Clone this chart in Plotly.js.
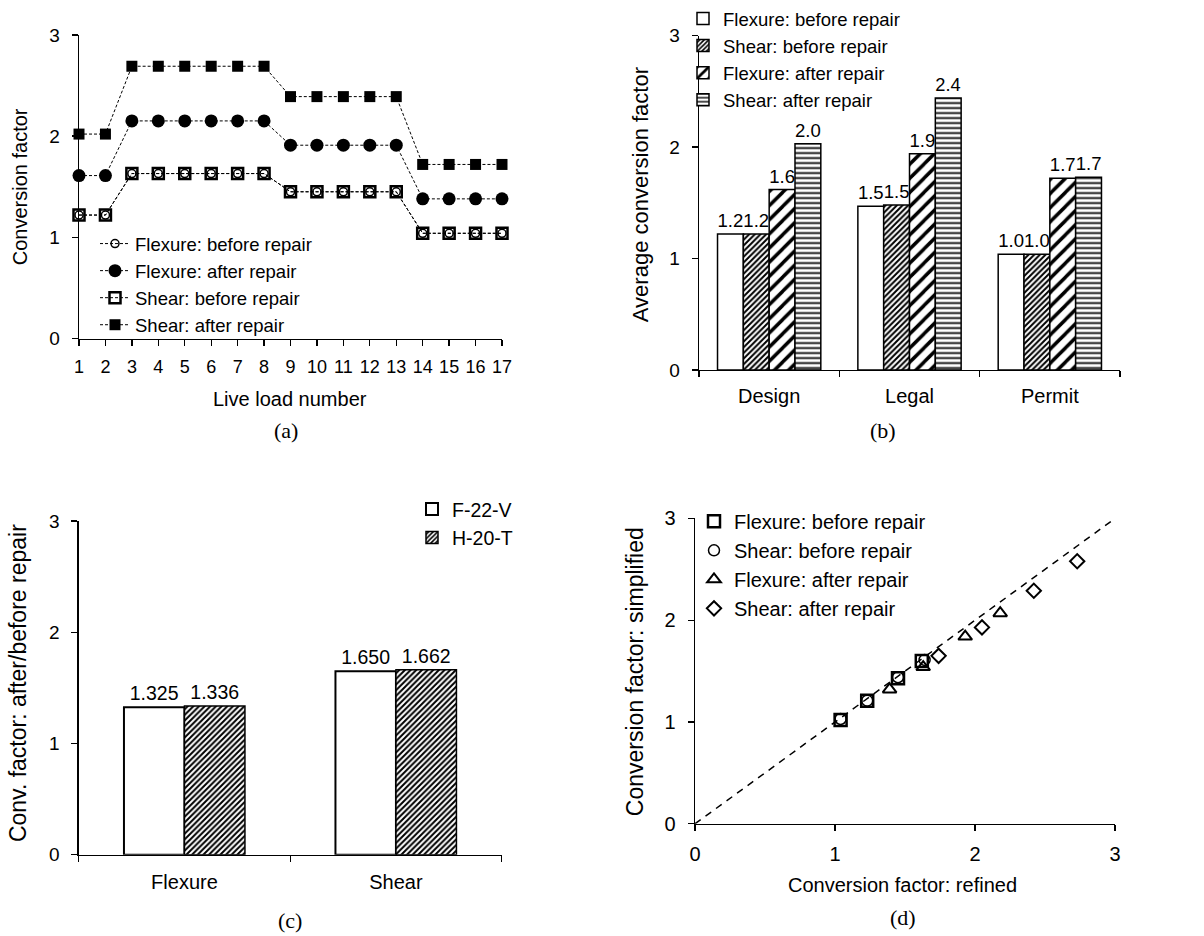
<!DOCTYPE html>
<html>
<head>
<meta charset="utf-8">
<script src="https://cdn.plot.ly/plotly-3.0.1.min.js"></script>
<style>html,body{margin:0;padding:0;background:#fff;}#chart{width:1204px;height:936px;}</style>
</head>
<body>
<div id="chart"></div>
<script>
// ---------- Panel (a) data ----------
const liveLoads = [1,2,3,4,5,6,7,8,9,10,11,12,13,14,15,16,17];
const flexBefore = [1.22,1.22,1.63,1.63,1.63,1.63,1.63,1.63,1.45,1.45,1.45,1.45,1.45,1.04,1.04,1.04,1.04];
const flexAfter  = [1.61,1.61,2.15,2.15,2.15,2.15,2.15,2.15,1.91,1.91,1.91,1.91,1.91,1.38,1.38,1.38,1.38];
const shearBefore= [1.22,1.22,1.63,1.63,1.63,1.63,1.63,1.63,1.45,1.45,1.45,1.45,1.45,1.04,1.04,1.04,1.04];
const shearAfter = [2.02,2.02,2.69,2.69,2.69,2.69,2.69,2.69,2.39,2.39,2.39,2.39,2.39,1.72,1.72,1.72,1.72];

// ---------- Panel (b) data ----------
const loadTypes = ['Design','Legal','Permit'];
const avgFlexBefore  = [1.22,1.47,1.04];
const avgShearBefore = [1.22,1.48,1.04];
const avgFlexAfter   = [1.62,1.94,1.72];
const avgShearAfter  = [2.03,2.44,1.73];

// ---------- Panel (c) data ----------
const effects = ['Flexure','Shear'];
const ratioF22V = [1.325,1.650];
const ratioH20T = [1.336,1.662];

// ---------- Panel (d) data ----------
const dFlexBeforeX  = [1.04,1.23,1.45,1.62];
const dFlexBeforeY  = [1.02,1.21,1.43,1.60];
const dShearBeforeX = [1.04,1.23,1.45,1.64];
const dShearBeforeY = [1.03,1.21,1.44,1.61];
const dFlexAfterX   = [1.39,1.63,1.93,2.18];
const dFlexAfterY   = [1.32,1.54,1.84,2.07];
const dShearAfterX  = [1.74,2.05,2.42,2.73];
const dShearAfterY  = [1.65,1.93,2.29,2.58];
const refLineX = [0,3];
const refLineY = [0,3];

const FONT = 'Liberation Sans, Arial, sans-serif';
const SERIF = 'Liberation Serif, Times New Roman, serif';
const W = 1204, H = 936;
const px = v => v / W;
const py = v => 1 - v / H;

const lineDash = {color:'black', width:1, dash:'3px,2px'};
const traces = [
  // (a)
  {x:liveLoads, y:flexBefore, name:'Flexure: before repair', mode:'lines+markers', line:lineDash,
   marker:{symbol:'circle-open', size:8, color:'black', line:{width:1.5, color:'black'}}, xaxis:'x', yaxis:'y', legend:'legend', cliponaxis:false},
  {x:liveLoads, y:flexAfter, name:'Flexure: after repair', mode:'lines+markers', line:lineDash,
   marker:{symbol:'circle', size:13, color:'black'}, xaxis:'x', yaxis:'y', legend:'legend', cliponaxis:false},
  {x:liveLoads, y:shearBefore, name:'Shear: before repair', mode:'lines+markers', line:lineDash,
   marker:{symbol:'square-open', size:11, color:'black', line:{width:2.5, color:'black'}}, xaxis:'x', yaxis:'y', legend:'legend', cliponaxis:false},
  {x:liveLoads, y:shearAfter, name:'Shear: after repair', mode:'lines+markers', line:lineDash,
   marker:{symbol:'square', size:11, color:'black'}, xaxis:'x', yaxis:'y', legend:'legend', cliponaxis:false},
];

// (b)
const bw = 0.184;
const densePattern = {shape:'/', size:4, solidity:0.5, fgcolor:'black', bgcolor:'white'};
const bSeries = [
  {y:avgFlexBefore, name:'Flexure: before repair', pattern:{shape:''}},
  {y:avgShearBefore, name:'Shear: before repair', pattern:densePattern},
  {y:avgFlexAfter, name:'Flexure: after repair', pattern:{shape:'/', size:10, solidity:0.35, fgcolor:'black', bgcolor:'white'}},
  {y:avgShearAfter, name:'Shear: after repair', pattern:{shape:'-', size:5, solidity:0.35, fgcolor:'black', bgcolor:'white'}},
];
bSeries.forEach((s, i) => {
  traces.push({type:'bar', x:loadTypes, y:s.y, name:s.name, width:bw, offset:-2*bw + i*bw,
    marker:{color:'white', line:{color:'black', width:1.5}, pattern:s.pattern},
    texttemplate:'%{y:.1f}', textposition:'outside', textfont:{size:19, color:'black', family:FONT},
    cliponaxis:false, xaxis:'x2', yaxis:'y2', legend:'legend2'});
});

// (c)
const cw = 0.286;
traces.push({type:'bar', x:effects, y:ratioF22V, name:'F-22-V', width:cw, offset:-cw,
  marker:{color:'white', line:{color:'black', width:2}},
  texttemplate:'%{y:.3f}', textposition:'outside', textfont:{size:19.5, color:'black', family:FONT},
  cliponaxis:false, xaxis:'x3', yaxis:'y3', legend:'legend3'});
traces.push({type:'bar', x:effects, y:ratioH20T, name:'H-20-T', width:cw, offset:0,
  marker:{color:'white', line:{color:'black', width:1.5}, pattern:densePattern},
  texttemplate:'%{y:.3f}', textposition:'outside', textfont:{size:19.5, color:'black', family:FONT},
  cliponaxis:false, xaxis:'x3', yaxis:'y3', legend:'legend3'});

// (d)
traces.push({x:refLineX, y:refLineY, mode:'lines', line:{color:'black', width:1.5, dash:'7px,6px'}, showlegend:false,
  xaxis:'x4', yaxis:'y4', hoverinfo:'skip'});
traces.push({x:dFlexBeforeX, y:dFlexBeforeY, name:'Flexure: before repair', mode:'markers',
  marker:{symbol:'square-open', size:12, color:'black', line:{width:2.5, color:'black'}}, xaxis:'x4', yaxis:'y4', legend:'legend4'});
traces.push({x:dShearBeforeX, y:dShearBeforeY, name:'Shear: before repair', mode:'markers',
  marker:{symbol:'circle-open', size:11, color:'black', line:{width:1.5, color:'black'}}, xaxis:'x4', yaxis:'y4', legend:'legend4'});
traces.push({x:dFlexAfterX, y:dFlexAfterY, name:'Flexure: after repair', mode:'markers',
  marker:{symbol:'triangle-up-open', size:12, color:'black', line:{width:2, color:'black'}}, xaxis:'x4', yaxis:'y4', legend:'legend4'});
traces.push({x:dShearAfterX, y:dShearAfterY, name:'Shear: after repair', mode:'markers',
  marker:{symbol:'diamond-open', size:11, color:'black', line:{width:2, color:'black'}}, xaxis:'x4', yaxis:'y4', legend:'legend4'});

const axBase = {showline:true, linecolor:'black', linewidth:1.3, showgrid:false, zeroline:false,
  ticks:'outside', ticklen:6, tickwidth:1.3, tickcolor:'black', tickfont:{size:19, color:'black', family:FONT}, fixedrange:true};
const xAx = (o) => Object.assign({}, axBase, {ticklabelstandoff:6}, o);
const yAx = (o) => Object.assign({}, axBase, {range:[0,3], dtick:1, tick0:0, ticklabelstandoff:8}, o);
const tf = s => ({size:s, color:'black', family:FONT});

const legBase = {bgcolor:'rgba(0,0,0,0)', borderwidth:0, xanchor:'left', yanchor:'top', tracegroupgap:0, itemwidth:30};

const ann = (text, x, y, size, opts) => Object.assign({text, x:px(x), y:py(y), xref:'paper', yref:'paper', showarrow:false,
  xanchor:'center', yanchor:'middle', font:tf(size)}, opts || {});
const cap = (text, x, y) => ({text, x:px(x), y:py(y), xref:'paper', yref:'paper', showarrow:false,
  xanchor:'center', yanchor:'middle', font:{size:22, color:'black', family:SERIF}});

const layout = {
  width:W, height:H, margin:{l:0, r:0, t:0, b:0}, paper_bgcolor:'white', plot_bgcolor:'white',
  font:{family:FONT, size:18, color:'black'}, barmode:'overlay', showlegend:true,
  xaxis: xAx({domain:[px(79), px(502)], range:[1,17], tickvals:liveLoads, anchor:'y', tickfont:tf(18)}),
  yaxis: yAx({domain:[py(336), py(31)], anchor:'x'}),
  xaxis2: xAx({domain:[px(699), px(1120)], type:'category', tickson:'boundaries', range:[-0.5,2.5], anchor:'y2', tickfont:tf(20), ticklabelstandoff:8}),
  yaxis2: yAx({domain:[py(367.7), py(31.7)], anchor:'x2'}),
  xaxis3: xAx({domain:[px(78.7), px(501.7)], type:'category', tickson:'boundaries', range:[-0.5,1.5], anchor:'y3', tickfont:tf(20), ticklabelstandoff:9}),
  yaxis3: yAx({domain:[py(854.3), py(519.3)], anchor:'x3'}),
  xaxis4: xAx({domain:[px(695), px(1115)], range:[0,3], dtick:1, tick0:0, anchor:'y4', tickfont:tf(20)}),
  yaxis4: yAx({domain:[py(823.3), py(516.7)], anchor:'x4', tickfont:tf(20)}),
  legend: Object.assign({}, legBase, {x:px(95), y:py(222), font:tf(18.5)}),
  legend2: Object.assign({}, legBase, {x:px(683), y:py(-4), font:tf(18.5)}),
  legend3: Object.assign({}, legBase, {x:px(412), y:py(488), font:tf(19.5)}),
  legend4: Object.assign({}, legBase, {x:px(694), y:py(500), font:tf(20)}),
  annotations: [
    ann('Conversion factor', 20, 184, 20, {textangle:-90}),
    ann('Live load number', 290, 397, 20),
    ann('Average conversion factor', 640, 192, 22, {textangle:-90}),
    ann('Conv. factor: after/before repair', 18, 682, 23, {textangle:-90}),
    ann('Conversion factor: simplified', 635, 671, 23, {textangle:-90}),
    ann('Conversion factor: refined', 902, 885, 20),
    cap('(a)', 286, 428),
    cap('(b)', 883, 428),
    cap('(c)', 290, 920),
    cap('(d)', 903, 917),
  ],
};

Plotly.newPlot('chart', traces, layout, {staticPlot:true, displayModeBar:false});
</script>
</body>
</html>
